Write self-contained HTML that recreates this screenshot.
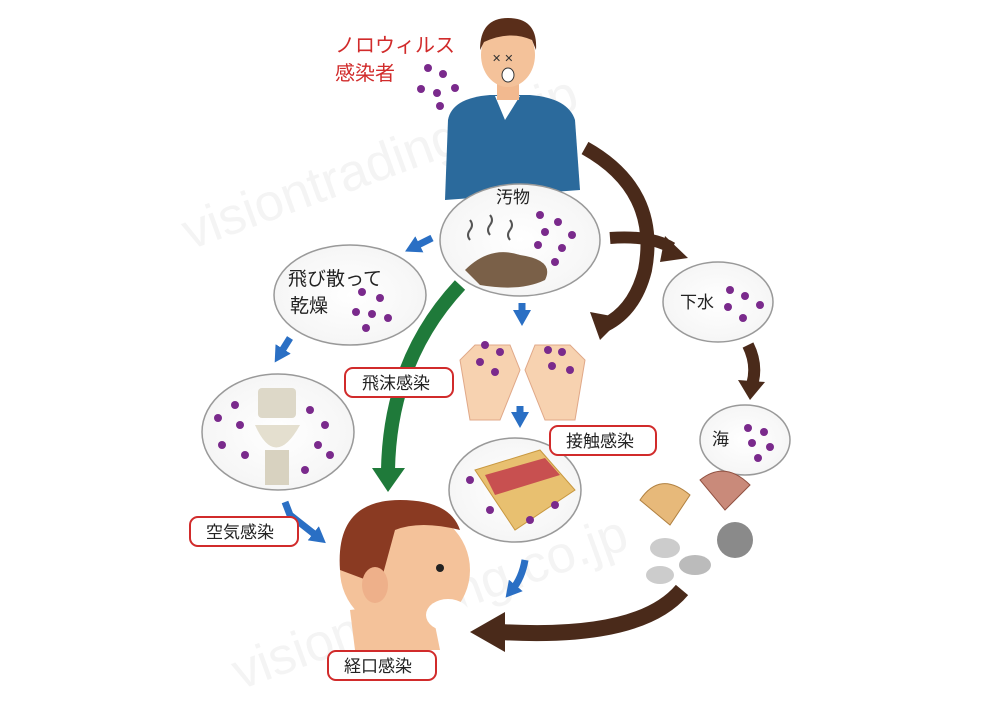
<!DOCTYPE html>
<html><head><meta charset="utf-8"><style>
body{margin:0;background:#fff;}
svg{display:block}
text{font-family:"Liberation Sans","Noto Sans CJK JP",sans-serif;}
</style></head><body>
<svg width="1000" height="707" viewBox="0 0 1000 707" xmlns="http://www.w3.org/2000/svg">
<defs>
<radialGradient id="g" cx="50%" cy="50%" r="60%"><stop offset="0%" stop-color="#fff"/><stop offset="80%" stop-color="#f6f6f6"/><stop offset="100%" stop-color="#e4e4e4"/></radialGradient>
<marker id="ab" markerUnits="userSpaceOnUse" markerWidth="18" markerHeight="18" refX="6" refY="9" orient="auto"><path d="M0,0 L16,9 L0,18z" fill="#2a6fc4"/></marker>
</defs>
<rect width="1000" height="707" fill="#fff"/>
<!-- watermark -->
<text x="190" y="250" font-size="52" fill="#f4f4f4" transform="rotate(-20 190 250)" font-family="Liberation Serif">visiontrading.co.jp</text>
<text x="240" y="690" font-size="52" fill="#f4f4f4" transform="rotate(-20 240 690)" font-family="Liberation Serif">visiontrading.co.jp</text>

<!-- red title -->
<text x="335" y="52" font-size="20" fill="#d12b2b">ノロウィルス</text>
<text x="335" y="80" font-size="20" fill="#d12b2b">感染者</text>
<g fill="#7a2a8c"><circle cx="428" cy="68" r="4"/><circle cx="443" cy="74" r="4"/><circle cx="421" cy="89" r="4"/><circle cx="437" cy="93" r="4"/><circle cx="455" cy="88" r="4"/><circle cx="440" cy="106" r="4"/></g>

<!-- top man -->
<path d="M445,200 L448,120 Q452,98 490,95 L530,95 Q568,98 575,120 L580,190 Z" fill="#2b6a9c"/>
<path d="M495,96 L505,120 L520,96 Z" fill="#fff"/>
<rect x="497" y="78" width="22" height="22" fill="#f2b98f"/>
<ellipse cx="508" cy="55" rx="27" ry="32" fill="#f4c29a"/>
<path d="M480,50 Q480,18 508,18 Q538,18 536,50 L532,40 Q510,30 484,42 Z" fill="#5a2e1a"/>
<ellipse cx="508" cy="75" rx="6" ry="7" fill="#fff" stroke="#333"/>
<text x="492" y="62" font-size="11" fill="#333">✕ ✕</text>

<!-- brown arrows -->
<path d="M585,148 Q660,190 645,270 Q635,310 605,325" fill="none" stroke="#4a2a1a" stroke-width="14"/>
<path d="M590,312 L622,318 L600,340 Z" fill="#4a2a1a"/>
<path d="M610,238 Q650,235 672,248" fill="none" stroke="#4a2a1a" stroke-width="12"/>
<path d="M665,236 L688,258 L660,262 Z" fill="#4a2a1a"/>
<path d="M748,345 Q758,365 752,385" fill="none" stroke="#4a2a1a" stroke-width="12"/>
<path d="M738,380 L765,382 L750,400 Z" fill="#4a2a1a"/>
<path d="M682,590 Q640,640 500,632" fill="none" stroke="#4a2a1a" stroke-width="16"/>
<path d="M505,612 L470,632 L505,652 Z" fill="#4a2a1a"/>

<!-- green arrow -->
<path d="M460,285 Q390,360 388,470" fill="none" stroke="#1f7a3a" stroke-width="14"/>
<path d="M372,468 L405,468 L388,492 Z" fill="#1f7a3a"/>

<!-- blue arrows -->
<g stroke="#2a6fc4" stroke-width="7" fill="none" marker-end="url(#ab)">
<path d="M432,238 L414,247"/>
<path d="M522,303 L522,316"/>
<path d="M290,338 L280,354"/>
<path d="M520,406 L520,418"/>
<path d="M285,502 L290,515 L318,537"/>
<path d="M525,560 Q522,578 512,590"/>
</g>

<!-- bubbles -->
<ellipse cx="520" cy="240" rx="80" ry="56" fill="url(#g)" stroke="#999" stroke-width="1.5"/>
<text x="496" y="203" font-size="17" fill="#222">汚物</text>
<path d="M465,270 Q490,245 520,255 Q555,260 545,280 Q520,292 480,285 Z" fill="#7a6048"/>
<g stroke="#555" stroke-width="2" fill="none"><path d="M470,240 q-4,-5 0,-10 q4,-5 0,-10"/><path d="M490,235 q-4,-5 0,-10 q4,-5 0,-10"/><path d="M510,240 q-4,-5 0,-10 q4,-5 0,-10"/></g>
<g fill="#7a2a8c"><circle cx="540" cy="215" r="4"/><circle cx="558" cy="222" r="4"/><circle cx="545" cy="232" r="4"/><circle cx="572" cy="235" r="4"/><circle cx="538" cy="245" r="4"/><circle cx="562" cy="248" r="4"/><circle cx="555" cy="262" r="4"/></g>

<ellipse cx="350" cy="295" rx="76" ry="50" fill="url(#g)" stroke="#999" stroke-width="1.5"/>
<text x="288" y="285" font-size="19" fill="#222">飛び散って</text>
<text x="290" y="312" font-size="19" fill="#222">乾燥</text>
<g fill="#7a2a8c"><circle cx="362" cy="292" r="4"/><circle cx="380" cy="298" r="4"/><circle cx="356" cy="312" r="4"/><circle cx="372" cy="314" r="4"/><circle cx="388" cy="318" r="4"/><circle cx="366" cy="328" r="4"/></g>

<ellipse cx="278" cy="432" rx="76" ry="58" fill="url(#g)" stroke="#999" stroke-width="1.5"/>
<rect x="258" y="388" width="38" height="30" rx="4" fill="#ddd8c8"/>
<path d="M255,425 Q275,470 300,425 Z" fill="#e4dfcf"/>
<rect x="265" y="450" width="24" height="35" fill="#d8d2c0"/>
<g fill="#7a2a8c"><circle cx="235" cy="405" r="4"/><circle cx="218" cy="418" r="4"/><circle cx="240" cy="425" r="4"/><circle cx="222" cy="445" r="4"/><circle cx="245" cy="455" r="4"/><circle cx="310" cy="410" r="4"/><circle cx="325" cy="425" r="4"/><circle cx="318" cy="445" r="4"/><circle cx="330" cy="455" r="4"/><circle cx="305" cy="470" r="4"/></g>

<ellipse cx="718" cy="302" rx="55" ry="40" fill="url(#g)" stroke="#999" stroke-width="1.5"/>
<text x="680" y="308" font-size="17" fill="#222">下水</text>
<g fill="#7a2a8c"><circle cx="730" cy="290" r="4"/><circle cx="745" cy="296" r="4"/><circle cx="728" cy="307" r="4"/><circle cx="760" cy="305" r="4"/><circle cx="743" cy="318" r="4"/></g>

<ellipse cx="745" cy="440" rx="45" ry="35" fill="url(#g)" stroke="#999" stroke-width="1.5"/>
<text x="712" y="445" font-size="17" fill="#222">海</text>
<g fill="#7a2a8c"><circle cx="748" cy="428" r="4"/><circle cx="764" cy="432" r="4"/><circle cx="752" cy="443" r="4"/><circle cx="770" cy="447" r="4"/><circle cx="758" cy="458" r="4"/></g>

<ellipse cx="515" cy="490" rx="66" ry="52" fill="url(#g)" stroke="#999" stroke-width="1.5"/>
<path d="M475,470 L540,450 L575,490 L515,530 Z" fill="#e8c070" stroke="#c89840"/>
<path d="M485,475 L545,458 L560,475 L495,495 Z" fill="#c85050"/>
<g fill="#7a2a8c"><circle cx="470" cy="480" r="4"/><circle cx="490" cy="510" r="4"/><circle cx="530" cy="520" r="4"/><circle cx="555" cy="505" r="4"/></g>

<!-- hands -->
<path d="M470,420 L460,360 L475,345 L510,345 L520,370 L500,420 Z" fill="#f7d2b0" stroke="#e0a888"/>
<path d="M575,420 L585,360 L570,345 L535,345 L525,370 L545,420 Z" fill="#f7d2b0" stroke="#e0a888"/>
<g fill="#7a2a8c"><circle cx="485" cy="345" r="4"/><circle cx="500" cy="352" r="4"/><circle cx="480" cy="362" r="4"/><circle cx="495" cy="372" r="4"/><circle cx="548" cy="350" r="4"/><circle cx="562" cy="352" r="4"/><circle cx="552" cy="366" r="4"/><circle cx="570" cy="370" r="4"/></g>

<!-- shells -->
<path d="M640,500 Q660,470 690,495 L670,525 Z" fill="#e7b97a" stroke="#b08040"/>
<path d="M700,480 Q725,460 750,485 L725,510 Z" fill="#c98a7a" stroke="#905040"/>
<circle cx="735" cy="540" r="18" fill="#8a8a8a"/>
<ellipse cx="665" cy="548" rx="15" ry="10" fill="#ccc"/>
<ellipse cx="660" cy="575" rx="14" ry="9" fill="#ccc"/>
<ellipse cx="695" cy="565" rx="16" ry="10" fill="#bbb"/>

<!-- bottom person -->
<path d="M350,610 L355,650 L440,650 L430,600 Z" fill="#f4c29a"/>
<ellipse cx="405" cy="570" rx="65" ry="62" fill="#f4c29a"/>
<path d="M340,570 Q335,500 400,500 Q450,500 460,530 Q420,520 395,530 L380,585 Z" fill="#8a3a22"/>
<ellipse cx="375" cy="585" rx="13" ry="18" fill="#eeb08a"/>
<circle cx="440" cy="568" r="4" fill="#222"/>
<ellipse cx="448" cy="615" rx="22" ry="16" fill="#fff"/>

<!-- labels -->
<g font-size="17" fill="#222">
<rect x="345" y="368" width="108" height="29" rx="8" fill="#fff" stroke="#d12b2b" stroke-width="2"/><text x="362" y="389">飛沫感染</text>
<rect x="550" y="426" width="106" height="29" rx="8" fill="#fff" stroke="#d12b2b" stroke-width="2"/><text x="566" y="447">接触感染</text>
<rect x="190" y="517" width="108" height="29" rx="8" fill="#fff" stroke="#d12b2b" stroke-width="2"/><text x="206" y="538">空気感染</text>
<rect x="328" y="651" width="108" height="29" rx="8" fill="#fff" stroke="#d12b2b" stroke-width="2"/><text x="344" y="672">経口感染</text>
</g>
</svg>
</body></html>
